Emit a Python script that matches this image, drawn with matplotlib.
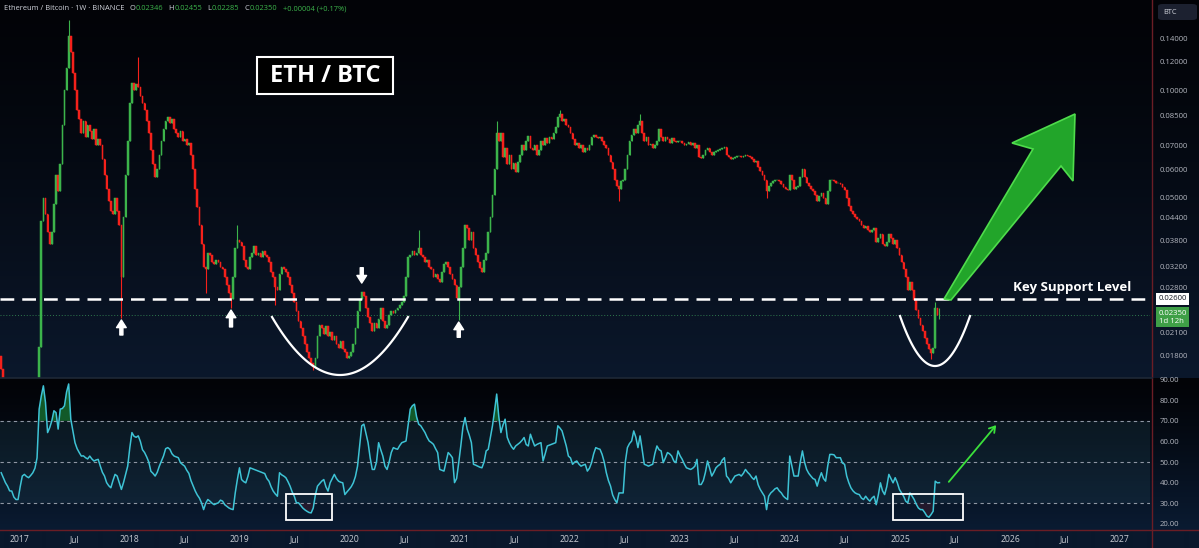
import numpy as np
import pandas as pd
import matplotlib
matplotlib.use("Agg")
import matplotlib.pyplot as plt
import matplotlib.dates as mdates
from matplotlib.patches import Polygon, Rectangle, FancyBboxPatch, FancyArrowPatch
from matplotlib.lines import Line2D

plt.rcParams["font.family"] = ["Open Sans", "DejaVu Sans"]

# ---- weekly ETH/BTC (Binance) ----
first_week = "2016-10-31"
first_open = 0.0180

close_2016 = [0.0165, 0.0150, 0.0138, 0.0126, 0.0112, 0.0105, 0.0098, 0.0090, 0.0082]
close_2017 = [
    0.0105, 0.0108, 0.0112, 0.0115, 0.0112, 0.0110, 0.0117, 0.0125,
    0.0150, 0.0191, 0.0430, 0.0500, 0.0450, 0.0400, 0.0370, 0.0400,
    0.0480, 0.0580, 0.0520, 0.0620, 0.0800, 0.1000, 0.1150, 0.1420,
    0.1280, 0.1120, 0.1000, 0.0880, 0.0830, 0.0760, 0.0820, 0.0740,
    0.0800, 0.0770, 0.0730, 0.0780, 0.0700, 0.0730, 0.0700, 0.0640,
    0.0580, 0.0530, 0.0490, 0.0460, 0.0450, 0.0500, 0.0460, 0.0420,
    0.0300, 0.0440, 0.0580, 0.0720]
close_2018 = [
    0.0920, 0.1050, 0.1000, 0.1040, 0.1020, 0.0960, 0.0920, 0.0880,
    0.0820, 0.0760, 0.0680, 0.0620, 0.0570, 0.0600, 0.0660, 0.0720,
    0.0780, 0.0820, 0.0840, 0.0810, 0.0830, 0.0780, 0.0760, 0.0740,
    0.0770, 0.0720, 0.0730, 0.0700, 0.0710, 0.0660, 0.0600, 0.0530,
    0.0470, 0.0420, 0.0370, 0.0320, 0.0315, 0.0350, 0.0345, 0.0330,
    0.0325, 0.0335, 0.0330, 0.0320, 0.0315, 0.0300, 0.0285, 0.0270,
    0.0260, 0.0300, 0.0360, 0.0380, 0.0375]
close_2019 = [
    0.0365, 0.0335, 0.0320, 0.0315, 0.0340, 0.0350, 0.0365, 0.0345,
    0.0350, 0.0340, 0.0355, 0.0345, 0.0340, 0.0330, 0.0310, 0.0300,
    0.0280, 0.0275, 0.0305, 0.0320, 0.0315, 0.0310, 0.0300, 0.0285,
    0.0270, 0.0255, 0.0240, 0.0225, 0.0215, 0.0205, 0.0195, 0.0185,
    0.0178, 0.0172, 0.0168, 0.0178, 0.0205, 0.0220, 0.0215, 0.0208,
    0.0218, 0.0205, 0.0210, 0.0200, 0.0205, 0.0195, 0.0190, 0.0198,
    0.0188, 0.0185, 0.0178, 0.0180]
close_2020 = [
    0.0185, 0.0195, 0.0215, 0.0240, 0.0260, 0.0272, 0.0265, 0.0245,
    0.0232, 0.0222, 0.0212, 0.0222, 0.0215, 0.0228, 0.0245, 0.0225,
    0.0215, 0.0220, 0.0235, 0.0240, 0.0238, 0.0242, 0.0245, 0.0250,
    0.0255, 0.0265, 0.0300, 0.0340, 0.0345, 0.0355, 0.0345, 0.0350,
    0.0360, 0.0345, 0.0340, 0.0330, 0.0335, 0.0320, 0.0315, 0.0300,
    0.0305, 0.0295, 0.0290, 0.0310, 0.0325, 0.0330, 0.0320, 0.0305,
    0.0295, 0.0285, 0.0262, 0.0280]
close_2021 = [
    0.0320, 0.0360, 0.0420, 0.0410, 0.0380, 0.0400, 0.0360, 0.0345,
    0.0330, 0.0318, 0.0310, 0.0335, 0.0350, 0.0400, 0.0440, 0.0510,
    0.0600, 0.0760, 0.0720, 0.0760, 0.0650, 0.0690, 0.0620, 0.0660,
    0.0600, 0.0625, 0.0590, 0.0630, 0.0660, 0.0700, 0.0680, 0.0720,
    0.0745, 0.0690, 0.0680, 0.0700, 0.0660, 0.0680, 0.0720, 0.0700,
    0.0735, 0.0710, 0.0740, 0.0730, 0.0760, 0.0790, 0.0840, 0.0860,
    0.0820, 0.0830, 0.0800, 0.0790]
close_2022 = [
    0.0760, 0.0730, 0.0700, 0.0710, 0.0690, 0.0700, 0.0670, 0.0690,
    0.0680, 0.0700, 0.0740, 0.0750, 0.0740, 0.0735, 0.0740, 0.0720,
    0.0700, 0.0690, 0.0660, 0.0630, 0.0600, 0.0560, 0.0540, 0.0530,
    0.0555, 0.0560, 0.0600, 0.0660, 0.0720, 0.0750, 0.0780, 0.0760,
    0.0800, 0.0820, 0.0760, 0.0720, 0.0740, 0.0700, 0.0705, 0.0690,
    0.0700, 0.0720, 0.0780, 0.0740, 0.0720, 0.0740, 0.0730, 0.0710,
    0.0735, 0.0720, 0.0715, 0.0720]
close_2023 = [
    0.0720, 0.0710, 0.0700, 0.0705, 0.0715, 0.0700, 0.0710, 0.0690,
    0.0700, 0.0650, 0.0645, 0.0660, 0.0680, 0.0690, 0.0670, 0.0660,
    0.0670, 0.0675, 0.0680, 0.0685, 0.0690, 0.0695, 0.0660, 0.0650,
    0.0640, 0.0645, 0.0650, 0.0652, 0.0655, 0.0650, 0.0655, 0.0660,
    0.0655, 0.0650, 0.0640, 0.0630, 0.0635, 0.0610, 0.0595, 0.0580,
    0.0560, 0.0520, 0.0540, 0.0550, 0.0555, 0.0560, 0.0560, 0.0555,
    0.0545, 0.0535, 0.0530, 0.0525]
close_2024 = [
    0.0580, 0.0560, 0.0530, 0.0535, 0.0540, 0.0570, 0.0600, 0.0570,
    0.0550, 0.0540, 0.0530, 0.0520, 0.0510, 0.0490, 0.0505, 0.0515,
    0.0500, 0.0480, 0.0520, 0.0560, 0.0560, 0.0555, 0.0550, 0.0550,
    0.0545, 0.0535, 0.0525, 0.0500, 0.0475, 0.0460, 0.0450, 0.0440,
    0.0435, 0.0430, 0.0420, 0.0410, 0.0415, 0.0405, 0.0400, 0.0405,
    0.0410, 0.0375, 0.0385, 0.0395, 0.0370, 0.0365, 0.0375, 0.0395,
    0.0385, 0.0370, 0.0380, 0.0360]
close_2025 = [
    0.0345, 0.0330, 0.0315, 0.0300, 0.0275, 0.0290, 0.0275, 0.0258,
    0.0242, 0.0230, 0.0220, 0.0212, 0.0202, 0.0194, 0.0188, 0.0184,
    0.0190, 0.0245, 0.02346, 0.0235]

# notable wicks (week index -> price)
wick_high = {32: 0.157, 65: 0.124, 112: 0.042, 198: 0.0406, 235: 0.082,
             265: 0.088, 303: 0.086, 443: 0.0255, 445: 0.02455}
wick_low = {57: 0.023, 97: 0.027, 109: 0.0246, 130: 0.025, 148: 0.0164,
            217: 0.0227, 293: 0.049, 363: 0.050, 441: 0.0176, 445: 0.02285}

# weekly RSI(14)
rsi_2016 = [44.8, 42.4, 40.0, 38.3, 36.0, 35.9, 33.0, 31.8, 31.8]
rsi_2017 = [
    38.0, 43.2, 44.0, 43.0, 42.4, 43.5, 44.8, 47.0,
    52.0, 75.7, 82.0, 87.0, 79.0, 64.3, 66.7, 70.0,
    74.9, 74.0, 66.0, 75.7, 76.0, 77.3, 84.0, 87.9,
    70.8, 65.0, 59.4, 56.5, 54.6, 52.9, 53.0, 52.1,
    51.5, 52.9, 51.5, 50.5, 51.0, 51.3, 48.0, 45.0,
    43.2, 40.0, 38.5, 37.5, 41.0, 44.0, 43.2, 40.0,
    36.7, 40.0, 44.0, 48.0]
rsi_2018 = [
    57.0, 64.3, 62.5, 62.0, 62.7, 60.0, 56.0, 54.6,
    52.5, 50.0, 45.5, 44.5, 43.2, 45.0, 48.0, 50.5,
    53.0, 56.5, 57.0, 56.2, 54.0, 52.9, 52.5, 52.1,
    49.7, 48.8, 48.0, 46.0, 44.5, 41.0, 38.5, 36.0,
    34.0, 32.5, 30.2, 26.9, 30.0, 31.8, 31.0, 30.0,
    29.3, 29.8, 30.2, 31.5, 31.0, 29.3, 28.5, 27.7,
    27.2, 26.9, 35.0, 41.5, 47.2]
rsi_2019 = [
    41.5, 40.5, 39.9, 43.0, 47.2, 46.8, 46.4, 46.0,
    45.6, 45.2, 44.8, 44.4, 42.0, 40.7, 38.0, 35.9,
    34.5, 33.4, 44.8, 43.8, 43.2, 42.4, 40.5, 38.3,
    35.5, 33.4, 30.2, 30.2, 29.0, 27.7, 26.8, 26.1,
    25.5, 25.3, 27.7, 34.0, 38.3, 39.5, 40.7, 41.5,
    38.0, 35.9, 39.9, 42.0, 44.0, 42.0, 40.7, 40.2,
    39.9, 34.2, 35.5, 36.7]
rsi_2020 = [
    38.0, 39.9, 43.0, 48.0, 58.0, 67.6, 68.4, 64.0,
    59.4, 52.0, 46.4, 46.4, 50.0, 59.4, 56.0, 52.9,
    48.0, 46.4, 50.0, 54.6, 57.0, 56.5, 56.2, 58.0,
    59.4, 59.8, 60.2, 68.0, 75.7, 77.3, 78.1, 72.0,
    68.4, 67.6, 66.0, 64.3, 62.0, 60.2, 59.5, 58.6,
    56.5, 54.6, 46.4, 46.0, 45.6, 50.0, 54.6, 53.5,
    52.1, 40.0, 42.0, 49.7]
rsi_2021 = [
    58.0, 67.0, 71.6, 66.0, 63.0, 59.4, 48.9, 48.5,
    48.0, 47.5, 47.2, 50.0, 55.4, 56.2, 62.0, 67.6,
    75.0, 83.0, 72.0, 64.3, 68.0, 70.8, 62.0, 59.4,
    57.5, 56.2, 57.8, 58.6, 59.4, 60.5, 61.9, 58.5,
    57.8, 63.5, 60.5, 57.8, 58.5, 59.0, 59.4, 50.5,
    54.0, 57.8, 58.2, 58.6, 59.0, 59.4, 67.6, 66.5,
    65.1, 61.5, 57.8, 52.9]
rsi_2022 = [
    52.0, 48.9, 50.0, 50.5, 49.0, 48.0, 48.5, 48.9,
    45.6, 47.0, 49.7, 54.0, 57.0, 56.5, 56.2, 53.7,
    50.0, 44.8, 41.0, 38.3, 34.0, 31.8, 30.2, 35.0,
    35.0, 35.0, 50.0, 57.0, 59.0, 60.2, 65.1, 62.0,
    57.0, 62.7, 56.0, 48.9, 48.5, 48.0, 48.5, 48.9,
    54.0, 57.8, 56.0, 55.4, 49.7, 52.0, 54.6, 54.0,
    52.9, 50.5, 49.7, 55.4]
rsi_2023 = [
    53.0, 51.3, 49.0, 47.2, 46.8, 46.4, 47.0, 48.0,
    51.3, 39.1, 39.1, 41.0, 45.0, 50.5, 47.0, 43.2,
    45.0, 47.2, 48.2, 48.9, 51.0, 52.1, 43.2, 42.0,
    39.9, 41.5, 43.2, 43.6, 44.0, 43.2, 44.5, 46.4,
    45.0, 44.0, 42.5, 41.5, 43.2, 39.0, 36.7, 35.0,
    33.4, 26.9, 33.4, 35.0, 35.9, 37.0, 37.5, 36.0,
    35.0, 33.4, 32.5, 31.8]
rsi_2024 = [
    52.9, 48.0, 43.2, 43.2, 43.2, 50.0, 55.4, 50.0,
    46.4, 44.5, 43.2, 42.0, 41.5, 38.3, 42.0, 44.8,
    42.0, 40.7, 48.0, 53.7, 53.7, 53.5, 52.1, 52.1,
    52.1, 49.5, 48.9, 43.2, 40.0, 37.5, 36.0, 35.0,
    34.5, 34.2, 32.5, 31.8, 33.4, 32.0, 31.0, 32.5,
    33.4, 29.3, 34.0, 39.9, 36.0, 34.2, 38.0, 44.0,
    42.0, 39.9, 42.4, 40.0]
rsi_2025 = [
    36.7, 35.0, 33.4, 31.0, 30.2, 35.0, 33.5, 31.8,
    29.5, 27.7, 26.9, 26.9, 25.5, 23.8, 23.2, 24.5,
    26.1, 40.7, 39.9, 40.0]

support_level = 0.026
price_ticks = [0.14, 0.12, 0.10, 0.085, 0.07, 0.06, 0.05, 0.044, 0.038, 0.032, 0.028, 0.021, 0.018]
rsi_ticks = [90, 80, 70, 60, 50, 40, 30, 20]
rsi_levels = [70, 50, 30]

closes = (close_2016 + close_2017 + close_2018 + close_2019 + close_2020 + close_2021
          + close_2022 + close_2023 + close_2024 + close_2025)
rsi = (rsi_2016 + rsi_2017 + rsi_2018 + rsi_2019 + rsi_2020 + rsi_2021
       + rsi_2022 + rsi_2023 + rsi_2024 + rsi_2025)

dates = pd.date_range(first_week, periods=len(closes), freq="7D")
x = mdates.date2num(dates)
c = np.array(closes)
o = np.array([first_open] + closes[:-1])
hi = np.maximum(o, c)
lo = np.minimum(o, c)
for i, v in wick_high.items():
    hi[i] = v
for i, v in wick_low.items():
    lo[i] = v

UP, DOWN = "#3cb44b", "#f5211b"
cols = np.where(c >= o, UP, DOWN)

W, H = 1199, 548
def fx(px):
    return px / W
def fy(py):
    return 1 - py / H

x_left = mdates.date2num(pd.Timestamp("2016-10-27"))
x_right = mdates.date2num(pd.Timestamp("2027-04-11"))

fig = plt.figure(figsize=(W / 100, H / 100), dpi=100)
fig.patch.set_facecolor("#0a1628")

# background gradients (price pane, rsi pane, date strip)
bg = fig.add_axes([0, 0, 1, 1], zorder=-10)
bg.set_axis_off()
grad = np.zeros((H, 1, 3))
top = np.array([2, 3, 7]) / 255
t1 = np.linspace(0, 1, 378)[:, None] ** 1.3
grad[:378, 0] = top * (1 - t1) + np.array([11, 24, 44]) / 255 * t1
t2 = np.linspace(0, 1, 152)[:, None] ** 1.2
grad[378:530, 0] = top * (1 - t2) + np.array([10, 27, 50]) / 255 * t2
grad[530:, 0] = np.array([10, 24, 44]) / 255
bg.imshow(grad, aspect="auto", extent=[0, 1, 0, 1], interpolation="bilinear")

# ---- price pane ----
ax = fig.add_axes([0, fy(378), fx(1150), 378 / H])
ax.patch.set_alpha(0)
ax.set_yscale("log")
ax.set_ylim(0.01561, 0.1789)
ax.set_xlim(x_left, x_right)
for s in ax.spines.values():
    s.set_visible(False)
ax.set_xticks([])
ax.yaxis.tick_right()
ax.set_yticks(price_ticks)
ax.set_yticks([], minor=True)
ax.set_yticklabels([f"{v:.5f}" for v in price_ticks])
ax.tick_params(axis="y", length=0, pad=7, labelsize=5.6, labelcolor="#b2b5be")

ax.axhline(closes[-1], color="#2f7a4c", lw=0.7, ls=(0, (1, 2)), zorder=1)
ax.vlines(x, lo, hi, colors=cols, lw=0.8, zorder=2)
ax.bar(x, np.abs(c - o), bottom=np.minimum(o, c), width=5.5, color=cols,
       edgecolor=cols, linewidth=0.35, zorder=3)
ax.axhline(support_level, color="white", lw=1.8, ls=(0, (5.5, 3.2)), zorder=4)

# support arrows (white)
for i, head, tail in [(57, 0.0227, 0.0206), (109, 0.0242, 0.0217),
                      (217, 0.0224, 0.0203), (171, 0.0288, 0.0318)]:
    ax.annotate("", xy=(x[i], head), xytext=(x[i], tail),
                arrowprops=dict(facecolor="white", edgecolor="white", width=2.2,
                                headwidth=7, headlength=5.5, shrink=0), zorder=6)

# right-axis boxes
ytr = ax.get_yaxis_transform()
ax.text(1.0075, support_level, f"{support_level:.5f}", transform=ytr, fontsize=5.6,
        color="#131722", va="center", ha="left", clip_on=False, zorder=8,
        bbox=dict(boxstyle="square,pad=0.3", fc="white", ec="none"))
ax.annotate(f"{closes[-1]:.5f}\n1d 12h", xy=(1.0075, closes[-1]), xycoords=ytr,
            xytext=(0, 3.5), textcoords="offset points", fontsize=5.6, color="white",
            va="top", ha="left", linespacing=1.25, annotation_clip=False, zorder=8,
            bbox=dict(boxstyle="square,pad=0.3", fc="#3f9f47", ec="none"))

# ---- RSI pane ----
rx = fig.add_axes([0, fy(530), fx(1150), 152 / H])
rx.patch.set_alpha(0)
rx.set_xlim(x_left, x_right)
rx.set_ylim(17.0, 90.8)
for s in rx.spines.values():
    s.set_visible(False)
r = np.array(rsi)
rx.axhspan(30, 70, color="#2c5a6a", alpha=0.2, lw=0)
for lv in rsi_levels:
    rx.axhline(lv, color="#8f97a4", lw=0.8, ls=(0, (3, 3)))
rx.fill_between(x, r, 70, where=r >= 70, interpolate=True, color="#20a040", alpha=0.55, lw=0)
rx.fill_between(x, r, 30, where=r <= 30, interpolate=True, color="#a02a3a", alpha=0.18, lw=0)
rx.plot(x, r, color="#3ec3d5", lw=1.1)

rx.yaxis.tick_right()
rx.set_yticks(rsi_ticks)
rx.set_yticklabels([f"{v:.2f}" for v in rsi_ticks])
tick_dates = pd.date_range("2017-01-01", "2027-01-01", freq="6MS")
rx.set_xticks(mdates.date2num(tick_dates))
rx.set_xticklabels([str(d.year) if d.month == 1 else "Jul" for d in tick_dates])
rx.tick_params(axis="y", length=0, pad=7, labelsize=5.6, labelcolor="#b2b5be")
rx.tick_params(axis="x", length=0, pad=3.5, labelsize=6.2, labelcolor="#c8cbd2")

# frame lines
fig.add_artist(Line2D([fx(1152), fx(1152)], [0, 1], color="#6b1d25", lw=1))
fig.add_artist(Line2D([0, 1], [fy(530), fy(530)], color="#6b1d25", lw=1))
fig.add_artist(Line2D([0, fx(1152)], [fy(378), fy(378)], color="#1e2836", lw=1.2))

# ---- annotations ----
fig.add_artist(Rectangle((fx(257), fy(94)), 136 / W, 37 / H, transform=fig.transFigure,
                         fc="black", ec="white", lw=1.5, zorder=9))
fig.text(fx(325), fy(76), "ETH / BTC", fontsize=17, fontweight="bold", color="white",
         ha="center", va="center", zorder=10)
fig.text(fx(1013), fy(287), "Key Support Level", fontsize=9.5, fontweight="bold",
         color="white", ha="left", va="center")

# rounding-bottom curves
for cx, half, top_y, bot_y in [(340, 68, 317, 375), (935, 35, 316, 366)]:
    u = np.linspace(-1, 1, 80)
    fig.add_artist(Line2D(fx(cx + half * u), fy(bot_y - (bot_y - top_y) * u ** 2),
                          color="white", lw=1.6))

# big green arrow
arrow_px = [(944, 299), (1033, 149), (1012, 143), (1075, 114), (1073, 181), (1061, 166), (951, 300)]
fig.add_artist(Polygon([(fx(a), fy(b)) for a, b in arrow_px], closed=True,
                       transform=fig.transFigure, fc="#22a52a", ec="#4fdc4c", lw=1.2))

# RSI boxes and arrow
for x0, x1 in [(286, 332), (893, 963)]:
    fig.add_artist(Rectangle((fx(x0), fy(520)), (x1 - x0) / W, 26 / H,
                             transform=fig.transFigure, fill=False, ec="white", lw=1.3))
fig.add_artist(FancyArrowPatch(
    (fx(947), fy(484)), (fx(998), fy(423)), transform=fig.transFigure,
    arrowstyle="->,head_length=4,head_width=2.5", color="#3be03b", lw=1.3))

# BTC box
fig.add_artist(FancyBboxPatch((fx(1158), fy(20)), 39 / W, 16 / H, transform=fig.transFigure,
                              boxstyle="round,pad=0,rounding_size=0.004", fc="#1c2130", ec="none"))
fig.text(fx(1163), fy(12), "BTC", fontsize=5.3, color="#d1d4dc", va="center", ha="left")

# legend header
chg = closes[-1] - closes[-2]
segments = [("Ethereum / Bitcoin · 1W · BINANCE", "#d1d4dc", 5),
            ("O", "#d1d4dc", 0.5), (f"{o[-1]:.5f}", UP, 5),
            ("H", "#d1d4dc", 0.5), (f"{hi[-1]:.5f}", UP, 5),
            ("L", "#d1d4dc", 0.5), (f"{lo[-1]:.5f}", UP, 5),
            ("C", "#d1d4dc", 0.5), (f"{c[-1]:.5f}", UP, 6),
            (f"{chg:+.5f} ({chg / closes[-2] * 100:+.2f}%)", UP, 0)]
renderer = fig.canvas.get_renderer()
xp = 4
for txt, col, gap in segments:
    t = fig.text(fx(xp), fy(9), txt, fontsize=5.4, color=col, va="center", ha="left")
    xp += t.get_window_extent(renderer).width + gap

fig.savefig("out.png", dpi=100, facecolor=fig.get_facecolor())
